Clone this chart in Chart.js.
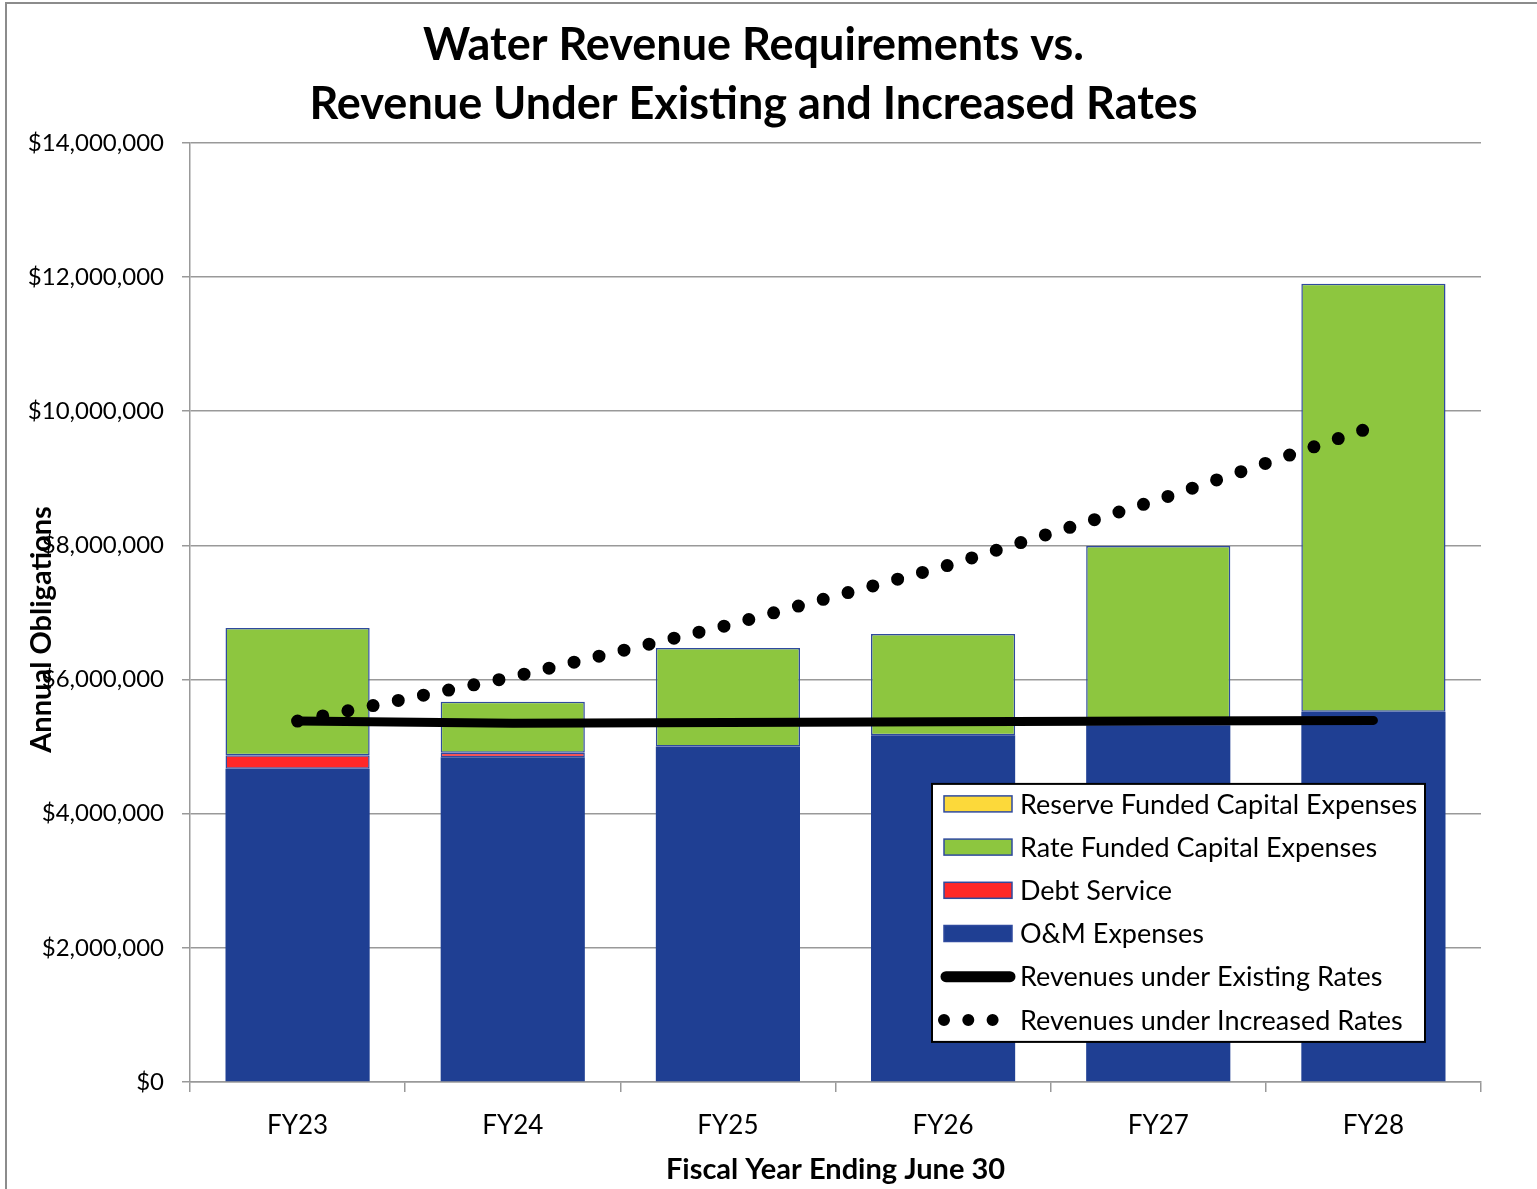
<!DOCTYPE html>
<html>
<head>
<meta charset="utf-8">
<title>Water Revenue Requirements</title>
<script src="https://cdn.jsdelivr.net/npm/chart.js@4.4.1/dist/chart.umd.min.js"></script>
<style>
  html, body { margin: 0; padding: 0; background: #fff; }
  #wrap { width: 1537px; height: 1189px; position: relative; }
</style>
</head>
<body>
<div id="wrap"><canvas id="myChart" width="1537" height="1189"></canvas></div>
<script>
// data (dollars)
const years = ['FY23', 'FY24', 'FY25', 'FY26', 'FY27', 'FY28'];
const omExpenses = [4670000, 4840000, 5000000, 5170000, 5320000, 5520000];
const debtService = [200000, 70000, 0, 0, 0, 0];
const rateFundedCapital = [1900000, 760000, 1470000, 1510000, 2670000, 6380000];
const reserveFundedCapital = [0, 0, 0, 0, 0, 0];
const revenueExisting = [5380000, 5350000, 5360000, 5370000, 5380000, 5390000];
const revenueIncreased = [5380000, 6040000, 6810000, 7680000, 8680000, 9770000];
const yTickValues = [0, 2000000, 4000000, 6000000, 8000000, 10000000, 12000000, 14000000];

const FONT = 'Lato';
const barEdge = '#2f4a9e';

// white page + grey frame (only left/top edges fall inside the picture)
const framePlugin = {
  id: 'frame',
  beforeDraw(chart) {
    const ctx = chart.ctx;
    ctx.save();
    ctx.fillStyle = '#fff';
    ctx.fillRect(0, 0, chart.width, chart.height);
    ctx.strokeStyle = '#8c8c8c';
    ctx.lineWidth = 2;
    ctx.strokeRect(6, 3, chart.width + 50, chart.height + 50);
    ctx.restore();
  }
};

// y axis title sits over the tick labels in the original
const yTitlePlugin = {
  id: 'yTitle',
  afterDraw(chart) {
    const ctx = chart.ctx;
    const area = chart.chartArea;
    ctx.save();
    ctx.translate(42, (area.top + area.bottom) / 2 + 17);
    ctx.rotate(-Math.PI / 2);
    ctx.font = 'bold 29px ' + FONT;
    ctx.fillStyle = '#000';
    ctx.textAlign = 'center';
    ctx.textBaseline = 'middle';
    ctx.fillText('Annual Obligations', 0, 0);
    ctx.restore();
  }
};

// boxed legend inside the plot, lower right
const legendOrder = [3, 2, 1, 0, 4, 5]; // dataset indexes, top to bottom
const legendPlugin = {
  id: 'boxLegend',
  afterDraw(chart) {
    const ctx = chart.ctx;
    const area = chart.chartArea;
    const bx = area.right - 549, by = area.top + 641, bw = 493, bh = 258;
    ctx.save();
    ctx.fillStyle = '#fff';
    ctx.fillRect(bx, by, bw, bh);
    ctx.strokeStyle = '#000';
    ctx.lineWidth = 2;
    ctx.strokeRect(bx, by, bw, bh);

    const ds = chart.data.datasets;
    legendOrder.forEach((idx, i) => {
      const d = ds[idx];
      const cy = by + 20 + i * 43.2;
      const sx = bx + 12;
      if (d.type === 'line') {
        ctx.strokeStyle = d.borderColor;
        ctx.lineCap = 'round';
        if (d.borderDash) {
          ctx.lineWidth = 12;
          ctx.setLineDash([0, 24.3]);
          ctx.beginPath();
          ctx.moveTo(sx, cy);
          ctx.lineTo(sx + 50, cy);
          ctx.stroke();
          ctx.setLineDash([]);
        } else {
          ctx.lineWidth = 11;
          ctx.beginPath();
          ctx.moveTo(sx + 2, cy);
          ctx.lineTo(sx + 66, cy);
          ctx.stroke();
        }
      } else {
        ctx.fillStyle = d.backgroundColor;
        ctx.fillRect(sx, cy - 8, 68, 16);
        ctx.strokeStyle = barEdge;
        ctx.lineWidth = 1.5;
        ctx.strokeRect(sx, cy - 8, 68, 16);
      }
      ctx.fillStyle = '#000';
      ctx.font = '27px ' + FONT;
      ctx.textAlign = 'left';
      ctx.textBaseline = 'middle';
      ctx.fillText(d.label, bx + 88, cy + 1);
    });
    ctx.restore();
  }
};

const ctx = document.getElementById('myChart').getContext('2d');

const graphData = {
  type: 'bar',
  data: {
    labels: years,
    datasets: [
      {
        label: 'O&M Expenses',
        data: omExpenses,
        backgroundColor: '#1f3f93',
        borderWidth: 0,
        stack: 'req',
        order: 2
      },
      {
        label: 'Debt Service',
        data: debtService,
        backgroundColor: '#ff2828',
        borderColor: barEdge,
        borderWidth: 1.5,
        borderSkipped: false,
        stack: 'req',
        order: 2
      },
      {
        label: 'Rate Funded Capital Expenses',
        data: rateFundedCapital,
        backgroundColor: '#8dc63f',
        borderColor: barEdge,
        borderWidth: 1.5,
        borderSkipped: false,
        stack: 'req',
        order: 2
      },
      {
        label: 'Reserve Funded Capital Expenses',
        data: reserveFundedCapital,
        backgroundColor: '#fcd93a',
        borderColor: barEdge,
        borderWidth: 1.5,
        borderSkipped: false,
        stack: 'req',
        order: 2
      },
      {
        type: 'line',
        label: 'Revenues under Existing Rates',
        data: revenueExisting,
        borderColor: '#000',
        borderWidth: 9,
        borderCapStyle: 'round',
        pointRadius: 0,
        tension: 0,
        stack: 'existing',
        order: 0
      },
      {
        type: 'line',
        label: 'Revenues under Increased Rates',
        data: revenueIncreased,
        borderColor: '#000',
        borderWidth: 13,
        borderDash: [0, 25.7],
        borderCapStyle: 'round',
        pointRadius: 0,
        tension: 0,
        stack: 'increased',
        order: 1
      }
    ]
  },
  options: {
    responsive: false,
    animation: false,
    layout: { padding: { left: 26, right: 56, top: 0, bottom: 0 } },
    datasets: {
      bar: { categoryPercentage: 1, barPercentage: 0.67 }
    },
    plugins: {
      legend: { display: false },
      tooltip: { enabled: false },
      title: {
        display: true,
        text: ['Water Revenue Requirements vs.', 'Revenue Under Existing and Increased Rates'],
        color: '#000',
        font: { family: FONT, size: 45, weight: 'bold', lineHeight: 1.31 },
        padding: { top: 16.5, bottom: 8.5 }
      }
    },
    scales: {
      x: {
        stacked: true,
        offset: true,
        grid: {
          offset: true,
          drawOnChartArea: false,
          drawTicks: true,
          tickLength: 10,
          color: '#999',
          lineWidth: 1.5
        },
        border: { color: '#999', width: 1.5 },
        ticks: { color: '#000', font: { family: FONT, size: 26 }, padding: 18 },
        title: {
          display: true,
          text: 'Fiscal Year Ending June 30',
          color: '#000',
          font: { family: FONT, size: 29, weight: 'bold' },
          padding: { top: 0, bottom: 2 }
        },
        afterFit(scale) { scale.height = 107; }
      },
      y: {
        stacked: true,
        min: 0,
        max: 14000000,
        afterBuildTicks(scale) {
          scale.ticks = yTickValues.map(v => ({ value: v }));
        },
        grid: { color: '#999', lineWidth: 1.5, tickLength: 8 },
        border: { color: '#999', width: 1.5 },
        ticks: {
          color: '#000',
          font: { family: FONT, size: 24 },
          padding: 18,
          callback: v => '$' + Number(v).toLocaleString('en-US')
        },
        afterFit(scale) { scale.width = 164; }
      }
    }
  },
  plugins: [framePlugin, legendPlugin, yTitlePlugin]
};

const myChart = new Chart(ctx, graphData);
</script>
</body>
</html>
